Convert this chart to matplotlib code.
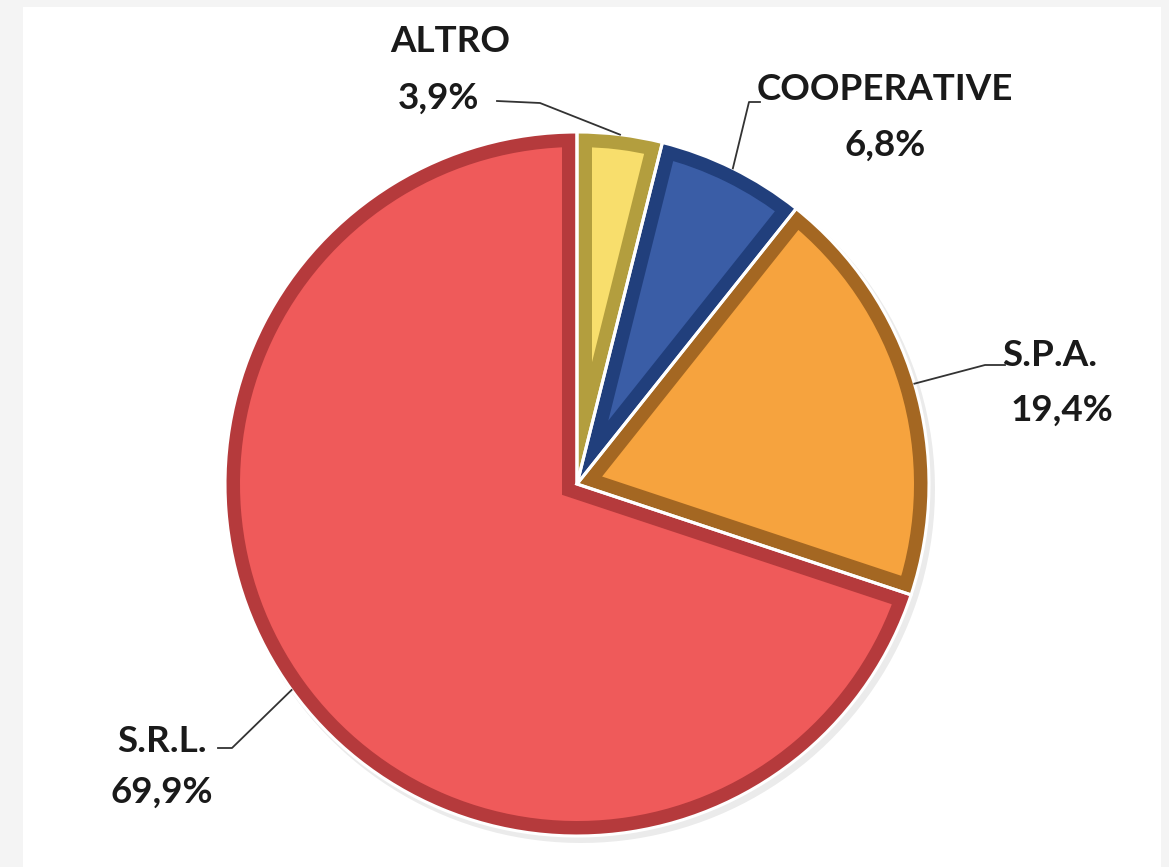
import numpy as np
import matplotlib
matplotlib.use("Agg")
import matplotlib.pyplot as plt
from matplotlib.patches import Wedge

# ---- data ----
categories = ["ALTRO", "COOPERATIVE", "S.P.A.", "S.R.L."]
values = [3.9, 6.8, 19.4, 69.9]
value_labels = ["3,9%", "6,8%", "19,4%", "69,9%"]
face_colors = ["#F8DE6C", "#3A5DA6", "#F6A33E", "#EF5A5A"]
band_colors = ["#B39E3E", "#213F7C", "#A46722", "#B53A3C"]

W, H = 1169, 867
fig = plt.figure(figsize=(W / 100, H / 100), dpi=100, facecolor="#F4F4F4")
ax = fig.add_axes([0, 0, 1, 1])
ax.set_xlim(0, W)
ax.set_ylim(0, H)
ax.set_axis_off()

# white panel
ax.add_patch(plt.Rectangle((23, 0), 1138, H - 7, facecolor="white", edgecolor="none", zorder=0))

cx, cy, R = 577, 383, 352
band = 15  # px

def pt(px):
    return px * 72 / 100

# soft shadow
ax.pie(values, colors=["#00000014"] * 4, startangle=90, counterclock=False,
       center=(cx + 4, cy - 5), radius=R + 2, wedgeprops=dict(linewidth=0))
# faces with an inner bevel band (stroke clipped to the wedge itself)
wedges, _ = ax.pie(values, colors=face_colors, startangle=90, counterclock=False,
                   center=(cx, cy), radius=R,
                   wedgeprops=dict(linewidth=pt(2 * band), joinstyle="miter"))
ax.set_xlim(0, W)
ax.set_ylim(0, H)
ax.set_aspect("equal")
for w, bc in zip(wedges, band_colors):
    w.set_edgecolor(bc)
    clip = Wedge(w.center, w.r, w.theta1, w.theta2, transform=ax.transData)
    w.set_clip_on(True)
    w.set_clip_path(clip)
# white separators
ax.pie(values, colors=["none"] * 4, startangle=90, counterclock=False,
       center=(cx, cy), radius=R,
       wedgeprops=dict(linewidth=2.2, edgecolor="white", fill=False))

ax.set_xlim(0, W)
ax.set_ylim(0, H)
ax.set_aspect("equal")
ax.set_axis_off()

# label layout in pixel coords (y from top)
label_pos = [
    dict(nx=450, ny=42, vx=438, vy=98, knee=[(497, 101), (540, 103)]),
    dict(nx=885, ny=90, vx=885, vy=145, knee=[(760, 102), (749, 102)]),
    dict(nx=1050, ny=355, vx=1062, vy=410, knee=[(1005, 365), (985, 365)]),
    dict(nx=162, ny=742, vx=162, vy=792, knee=[(218, 748), (232, 748)]),
]

fprops = dict(family=["Lato", "DejaVu Sans"], fontweight="bold", fontsize=26.5, color="#1a1a1a")

start = 90.0
for cat, v, vl, lp in zip(categories, values, value_labels, label_pos):
    mid = np.deg2rad(start - v * 3.6 / 2)
    start -= v * 3.6
    ex, ey = cx + R * np.cos(mid), cy + R * np.sin(mid)
    pts = [(x, H - y) for x, y in lp["knee"]] + [(ex, ey)]
    xs, ys = zip(*pts)
    ax.plot(xs, ys, color="#333333", lw=1.3, zorder=5)
    ax.text(lp["nx"], H - lp["ny"], cat, ha="center", va="center", **fprops)
    ax.text(lp["vx"], H - lp["vy"], vl, ha="center", va="center", **fprops)

fig.savefig("out.png", dpi=100, facecolor=fig.get_facecolor())
